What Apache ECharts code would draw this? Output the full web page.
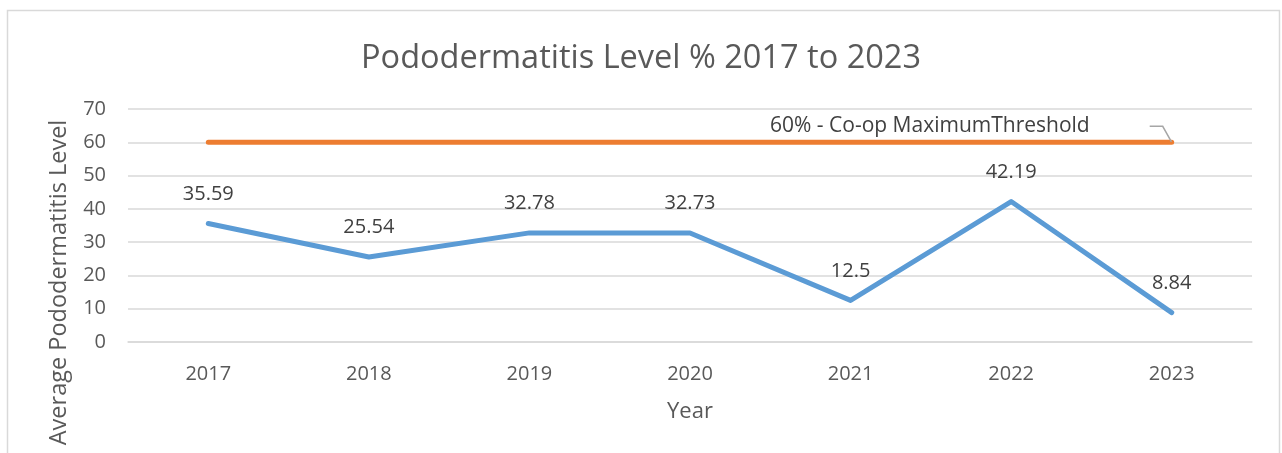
<!DOCTYPE html>
<html>
<head>
<meta charset="utf-8">
<script src="https://cdn.jsdelivr.net/npm/echarts@6/dist/echarts.min.js"></script>
<style>
  html, body { margin: 0; padding: 0; background: #fff; }
  #chart { width: 1282px; height: 453px; }
</style>
</head>
<body>
<div id="chart"></div>
<script>
const years = ['2017', '2018', '2019', '2020', '2021', '2022', '2023'];
const levels = [35.59, 25.54, 32.78, 32.73, 12.5, 42.19, 8.84];
const threshold = [60, 60, 60, 60, 60, 60, 60];
const thresholdLabel = '60% - Co-op MaximumThreshold';

const font = '"Open Sans", "Liberation Sans", sans-serif';
const textGray = '#595959';

const myChart = echarts.init(document.getElementById('chart'));

myChart.setOption({
  animation: false,
  textStyle: { fontFamily: font },
  title: {
    text: 'Pododermatitis Level % 2017 to 2023',
    left: 'center',
    top: 37,
    textStyle: { fontFamily: font, fontSize: 32.5, fontWeight: 'normal', color: textGray }
  },
  graphic: [{
    type: 'rect',
    shape: { x: 7.5, y: 10.5, width: 1272, height: 460 },
    style: { fill: 'none', stroke: '#d9d9d9', lineWidth: 1.5 },
    silent: true
  }],
  grid: { left: 128, right: 30, top: 109, bottom: 111 },
  xAxis: {
    type: 'category',
    data: years,
    name: 'Year',
    nameLocation: 'middle',
    nameGap: 59,
    nameTextStyle: { fontFamily: font, fontSize: 22, color: textGray },
    axisLine: { show: true, lineStyle: { color: '#d9d9d9', width: 1.5 } },
    axisTick: { show: false },
    axisLabel: { margin: 22, fontFamily: font, fontSize: 20, color: textGray }
  },
  yAxis: {
    type: 'value',
    min: 0,
    max: 70,
    interval: 10,
    name: 'Average Pododermatitis Level',
    nameLocation: 'middle',
    nameGap: 57,
    nameTextStyle: {
      fontFamily: font,
      fontSize: 23.5,
      color: textGray,
      padding: [0, 114, 0, 0]
    },
    axisLine: { show: false },
    axisTick: { show: false },
    axisLabel: { margin: 22, fontFamily: font, fontSize: 20, color: textGray },
    splitLine: { lineStyle: { color: '#d9d9d9', width: 1.5 } }
  },
  series: [
    {
      name: 'Level',
      type: 'line',
      data: levels,
      symbol: 'circle',
      symbolSize: 1,
      itemStyle: { color: '#5b9bd5' },
      lineStyle: { color: '#5b9bd5', width: 5, cap: 'round', join: 'round' },
      label: {
        show: true,
        position: 'top',
        distance: 19,
        fontFamily: font,
        fontSize: 20,
        color: '#404040'
      }
    },
    {
      name: 'Threshold',
      type: 'line',
      data: threshold.map((v, i) => i === threshold.length - 1 ? {
        value: v,
        label: {
          show: true,
          // trailing blanks leave the gap before the leader line, as in the original
          formatter: thresholdLabel + '\u00a0'.repeat(11),
          fontFamily: font,
          fontSize: 21,
          color: '#404040'
        }
      } : v),
      symbol: 'circle',
      symbolSize: 1,
      itemStyle: { color: '#ed7d31' },
      lineStyle: { color: '#ed7d31', width: 5, cap: 'round' },
      labelLayout: (params) => ({
        x: params.rect.x + params.rect.width / 2 - 22,
        y: params.rect.y + params.rect.height / 2 - 16,
        align: 'right',
        verticalAlign: 'middle'
      }),
      labelLine: { show: true, length2: 13, lineStyle: { color: '#a6a6a6', width: 1.5 } }
    }
  ]
});
</script>
</body>
</html>
